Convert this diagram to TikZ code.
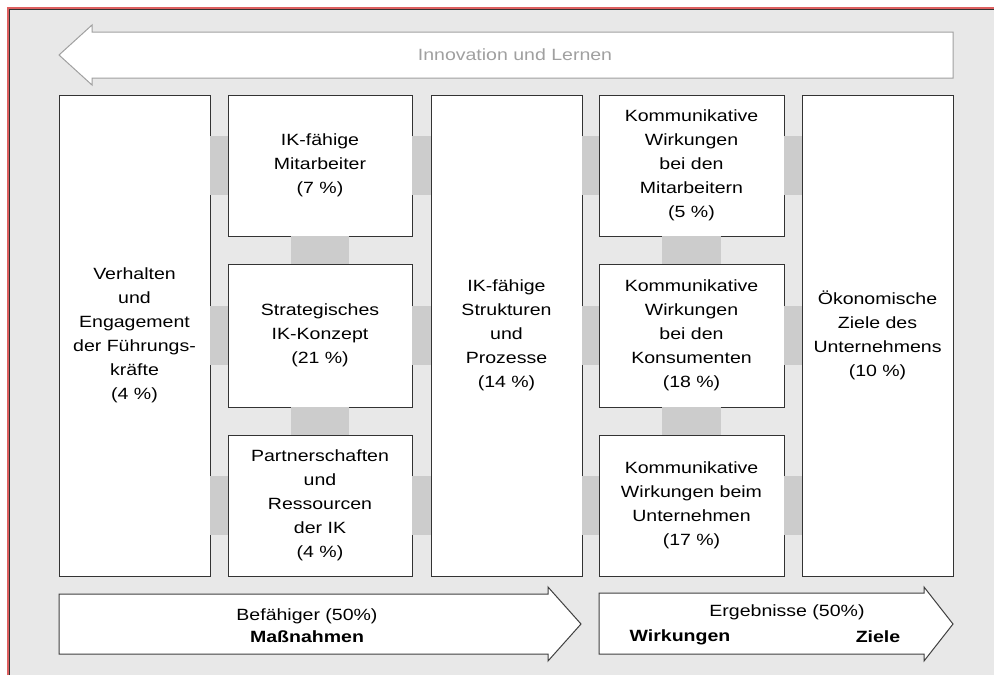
\documentclass[tikz,border=0pt]{standalone}
\usepackage{fontspec}
\setmainfont[FakeStretch=1.2]{Liberation Sans}
\definecolor{framegray}{RGB}{232,232,232}
\definecolor{bandgray}{RGB}{204,204,204}
\definecolor{framered}{RGB}{222,96,96}
\definecolor{lightline}{RGB}{160,160,160}
\tikzset{
	box/.style={draw=black!80, fill=white, line width=0.75pt, inner sep=0pt, outer sep=0pt,
		align=center, font=\fontsize{12.2}{18}\selectfont},
	band/.style={draw=bandgray, line width=44pt},
	arrowtext/.style={inner sep=0pt, align=center, font=\fontsize{12.2}{16.5}\selectfont},
	bigarrow/.style={draw=black!75, fill=white, line width=0.75pt}
}

\begin{document}
\begin{tikzpicture}[x=0.75pt, y=-0.75pt]
		\useasboundingbox (0,0) rectangle (994,675);
		\fill[framegray] (8,8) rectangle (994,675);
		\draw[framered, line width=1pt] (8,675) -- (8,8) -- (994,8);
		\draw[black!80, line width=0.5pt] (9.3,675) -- (9.3,9.3) -- (994,9.3);

		\draw[draw=lightline, fill=white, line width=0.75pt] (953,32) -- (92,32) -- (92,25) -- (59,55) -- (92,85) -- (92,78) -- (953,78) -- cycle;
		\node[arrowtext, text=lightline] (innov) at (515,55) {Innovation und Lernen};

		\node[box, minimum width=113.25pt, minimum height=360.75pt] (verh) at (134.5,335.5) {Verhalten\\und\\Engagement\\der Führungs-\\kräfte\\(4 \%)};
		\node[box, minimum width=138pt, minimum height=105.75pt] (mit) at (320,165.5) {IK-fähige\\Mitarbeiter\\(7 \%)};
		\node[box, minimum width=138pt, minimum height=107.25pt] (strat) at (320,335.5) {Strategisches\\IK-Konzept\\(21 \%)};
		\node[box, minimum width=138pt, minimum height=105.75pt] (partner) at (320,505.5) {Partnerschaften\\und\\Ressourcen\\der IK\\(4 \%)};
		\node[box, minimum width=113.25pt, minimum height=360.75pt] (struk) at (506.5,335.5) {IK-fähige\\Strukturen\\und\\Prozesse\\(14 \%)};
		\node[box, minimum width=138.75pt, minimum height=105.75pt] (kmit) at (691.5,165.5) {Kommunikative\\Wirkungen\\bei den\\Mitarbeitern\\(5 \%)};
		\node[box, minimum width=138.75pt, minimum height=107.25pt] (kkon) at (691.5,335.5) {Kommunikative\\Wirkungen\\bei den\\Konsumenten\\(18 \%)};
		\node[box, minimum width=138.75pt, minimum height=105.75pt] (kunt) at (691.5,505.5) {Kommunikative\\Wirkungen beim\\Unternehmen\\(17 \%)};
		\node[box, minimum width=113.25pt, minimum height=360.75pt] (oeko) at (877.5,335.5) {Ökonomische\\Ziele des\\Unternehmens\\(10 \%)};

		\foreach \a/\b in {mit/kmit, strat/kkon, partner/kunt}{
			\draw[band] (verh.east |- \a.west) -- (\a.west);
			\draw[band] (\a.east) -- (\a.east -| struk.west);
			\draw[band] (struk.east |- \b.west) -- (\b.west);
			\draw[band] (\b.east) -- (\b.east -| oeko.west);
		}
		\draw[band] (mit.south) -- (strat.north);
		\draw[band] (strat.south) -- (partner.north);
		\draw[band] (kmit.south) -- (kkon.north);
		\draw[band] (kkon.south) -- (kunt.north);

		\draw[bigarrow] (59,594) -- (548,594) -- (548,587) -- (581,624) -- (548,661) -- (548,654) -- (59,654) -- cycle;
		\draw[bigarrow] (599,593) -- (924,593) -- (924,587) -- (953,624) -- (924,661) -- (924,654) -- (599,654) -- cycle;
		\node[arrowtext] (befaeh) at (307,626) {Befähiger (50\%)\\\textbf{Maßnahmen}};
		\node[arrowtext] (ergeb) at (787,612) {Ergebnisse (50\%)};
		\node[arrowtext] (wirk) at (680,637) {\textbf{Wirkungen}};
		\node[arrowtext] (ziele) at (878,637) {\textbf{Ziele}};
	\end{tikzpicture}
\end{document}
